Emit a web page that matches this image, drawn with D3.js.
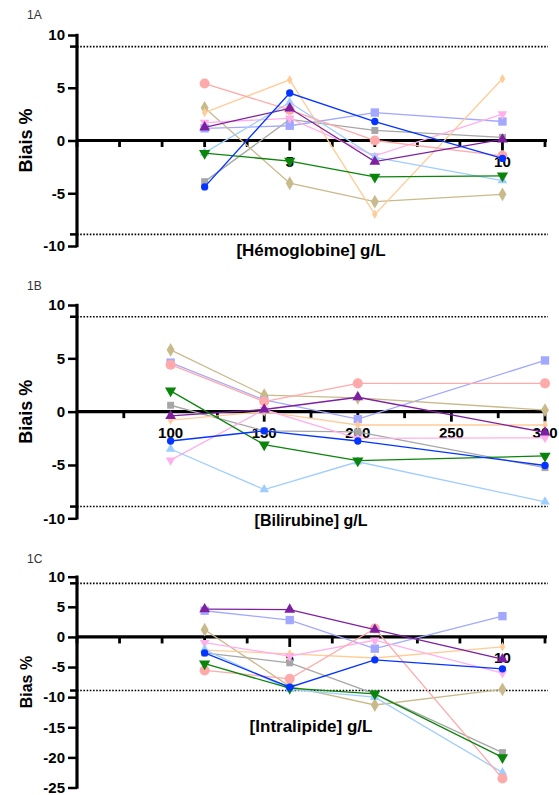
<!DOCTYPE html>
<html>
<head>
<meta charset="utf-8">
<script src="https://cdn.jsdelivr.net/npm/d3@7"></script>
<style>
body { margin: 0; background: #fff; }
text { font-family: "Liberation Sans", Arial, sans-serif; }
</style>
</head>
<body>
<svg width="559" height="795"></svg>
<script>
// series in drawing order
var seriesNames = ['gray', 'lavender', 'tan', 'lightOrange', 'pink', 'lightBlue', 'salmon', 'purple', 'green', 'blue'];

// 1A - hemoglobine
var hemoX = [3, 5, 7, 10];
var hemoBias = [
  [-3.9, 2.0, 0.95, 0.3],
  [1.15, 1.4, 2.65, 1.8],
  [3.1, -4.05, -5.8, -5.1],
  [2.65, 5.75, -7.0, 5.85],
  [1.7, 2.1, -1.45, 2.5],
  [-1.15, 3.6, -1.6, -3.8],
  [5.4, 2.9, 0.0, -1.45],
  [1.25, 3.05, -2.0, 0.1],
  [-1.2, -1.95, -3.45, -3.35],
  [-4.4, 4.5, 1.8, -1.7]
];
var hemoTicks = [0, 1, 2, 3, 4, 5, 6, 7, 8, 9, 10, 11];
var hemoLabels = [5, 10];

// 1B - bilirubine
var biliX = [100, 150, 200, 300];
var biliBias = [
  [0.6, -1.8, -1.9, -5.25],
  [4.6, 1.1, -0.7, 4.8],
  [5.8, 1.55, 1.3, 0.15],
  [-0.8, 0.0, -1.25, -1.25],
  [-4.55, 0.2, -2.5, -2.45],
  [-3.5, -7.3, -4.7, -8.45],
  [4.4, 0.95, 2.65, 2.65],
  [-0.4, 0.2, 1.35, -1.95],
  [1.95, -3.1, -4.6, -4.15],
  [-2.75, -1.8, -2.75, -5.05]
];
var biliTicks = [75, 100, 125, 150, 175, 200, 225, 250, 275, 300];
var biliLabels = [100, 150, 200, 250, 300];

// 1C - intralipide
var lipX = [3, 5, 7, 10];
var lipBias = [
  [-2.65, -4.3, -9.45, -19.2],
  [4.35, 2.8, -1.95, 3.45],
  [1.2, -8.2, -11.3, -8.7],
  [-2.2, -2.8, -3.5, -1.65],
  [-0.95, -3.2, -0.55, -6.0],
  [-2.1, -8.7, -10.0, -22.5],
  [-5.55, -6.95, 1.4, -23.5],
  [4.6, 4.55, 1.2, -3.7],
  [-4.45, -8.5, -9.45, -20.0],
  [-2.65, -8.35, -3.8, -5.3]
];

var limitBias = 8.9;
var ticksAB = [-10, -5, 0, 5, 10];
var ticksC = [10, 5, 0, -5, -10, -15, -20, -25];

// marker styles, same order as seriesNames
var colors = ['#a6a6a6', '#a3a8ff', '#c9ba8c', '#ffcc99', '#ffb0ec', '#9fcdff', '#ffaaaa', '#7d1fa0', '#0a840a', '#0434ff'];
var shapes = [d3.symbolSquare, d3.symbolSquare, d3.symbolDiamond, d3.symbolDiamond, 'down', d3.symbolTriangle, d3.symbolCircle, d3.symbolTriangle, 'down', d3.symbolCircle];
var sizes = [48, 70, 55, 26, 40, 40, 80, 50, 55, 42];

var svg = d3.select('svg');
var left = 77, right = 545;

var drawPanel = function(opt) {
  var g = svg.append('g');
  var x = d3.scaleLinear().domain(opt.xDomain).range([left, right]);
  var y = d3.scaleLinear().domain(opt.yDomain).range([opt.yBottom, opt.yTop]);

  g.append('text').attr('x', 27).attr('y', opt.tagY)
    .attr('font-size', 12).attr('fill', '#333').text(opt.tag);

  // dotted limit lines
  [limitBias, -limitBias].forEach(function(v) {
    g.append('line').attr('x1', left).attr('x2', right + 3)
      .attr('y1', y(v)).attr('y2', y(v))
      .attr('stroke', '#000').attr('stroke-width', 1.6)
      .attr('stroke-dasharray', '1.6,1.6');
    g.append('line').attr('x1', left - 7).attr('x2', left)
      .attr('y1', y(v)).attr('y2', y(v))
      .attr('stroke', '#000').attr('stroke-width', 2.5);
  });

  // y axis
  var yAxis = d3.axisLeft(y).tickValues(opt.yTicks).tickSize(9).tickPadding(3)
    .tickFormat(function(d) { return String(d); });
  var ya = g.append('g').attr('transform', 'translate(' + left + ',0)').call(yAxis);
  ya.select('.domain').attr('d', 'M0,' + (opt.yTop - 1.2) + 'V' + (opt.yBottom + 1.2))
    .attr('stroke-width', 3.2);
  ya.selectAll('.tick line').attr('stroke-width', 2.5);
  ya.selectAll('.tick text').attr('font-size', 15).attr('font-weight', 'bold')
    .attr('fill', '#000').style('font-family', '"Liberation Sans", Arial, sans-serif');

  // x axis through zero
  var y0 = y(0);
  g.append('line').attr('x1', left).attr('x2', right + 2)
    .attr('y1', y0).attr('y2', y0)
    .attr('stroke', '#000').attr('stroke-width', 3.2);
  g.selectAll('.xtick').data(opt.xTicks).enter().append('line')
    .attr('x1', function(d) { return x(d); })
    .attr('x2', function(d) { return x(d); })
    .attr('y1', y0)
    .attr('y2', function(d) { return y0 + (opt.xLabels.indexOf(d) >= 0 ? 10 : 6.5); })
    .attr('stroke', '#000').attr('stroke-width', 2.8);

  // x tick labels (markers are drawn over them)
  g.selectAll('.xlab').data(opt.xLabels).enter().append('text')
    .attr('x', function(d) { return x(d); })
    .attr('y', y0 + 26)
    .attr('text-anchor', 'middle').attr('font-size', 15).attr('font-weight', 'bold')
    .text(function(d) { return d; });

  // y title
  g.append('text')
    .attr('transform', 'translate(32,' + ((opt.yTop + opt.yBottom) / 2) + ') rotate(-90)')
    .attr('text-anchor', 'middle').attr('font-size', opt.yTitleSize)
    .attr('font-weight', 'bold').text(opt.yTitle);

  // x title
  g.append('text').attr('x', 311).attr('y', opt.xTitleY)
    .attr('text-anchor', 'middle').attr('font-size', opt.xTitleSize)
    .attr('font-weight', 'bold').text(opt.xTitle);

  // series
  var line = d3.line()
    .x(function(d, i) { return x(opt.xs[i]); })
    .y(function(d) { return y(d); });

  opt.values.forEach(function(vals, s) {
    var sg = g.append('g').attr('class', 'series ' + seriesNames[s]);
    sg.append('path').attr('d', line(vals))
      .attr('fill', 'none').attr('stroke', colors[s]).attr('stroke-width', 1.3);
    var sym = shapes[s] === 'down' ? d3.symbolTriangle : shapes[s];
    var rot = shapes[s] === 'down' ? ' rotate(180)' : '';
    sg.selectAll('path.pt').data(vals).enter().append('path')
      .attr('class', 'pt')
      .attr('d', d3.symbol().type(sym).size(sizes[s]))
      .attr('transform', function(d, i) {
        return 'translate(' + x(opt.xs[i]) + ',' + y(d) + ')' + rot;
      })
      .attr('fill', colors[s]);
  });
};

drawPanel({
  tag: '1A', tagY: 19,
  xDomain: [0, 11], yDomain: [-10, 10], yTop: 35, yBottom: 246,
  xs: hemoX, values: hemoBias, xTicks: hemoTicks, xLabels: hemoLabels,
  yTicks: ticksAB, yTitle: 'Biais %', yTitleSize: 18,
  xTitle: '[Hémoglobine] g/L', xTitleY: 256, xTitleSize: 17
});

drawPanel({
  tag: '1B', tagY: 290,
  xDomain: [50, 300], yDomain: [-10, 10], yTop: 305, yBottom: 518.3,
  xs: biliX, values: biliBias, xTicks: biliTicks, xLabels: biliLabels,
  yTicks: ticksAB, yTitle: 'Biais %', yTitleSize: 18,
  xTitle: '[Bilirubine] g/L', xTitleY: 526, xTitleSize: 16
});

drawPanel({
  tag: '1C', tagY: 563,
  xDomain: [0, 11], yDomain: [-25, 10], yTop: 576.7, yBottom: 787.5,
  xs: lipX, values: lipBias, xTicks: hemoTicks, xLabels: hemoLabels,
  yTicks: ticksC, yTitle: 'Bias %', yTitleSize: 16,
  xTitle: '[Intralipide] g/L', xTitleY: 732, xTitleSize: 17
});
</script>
</body>
</html>
